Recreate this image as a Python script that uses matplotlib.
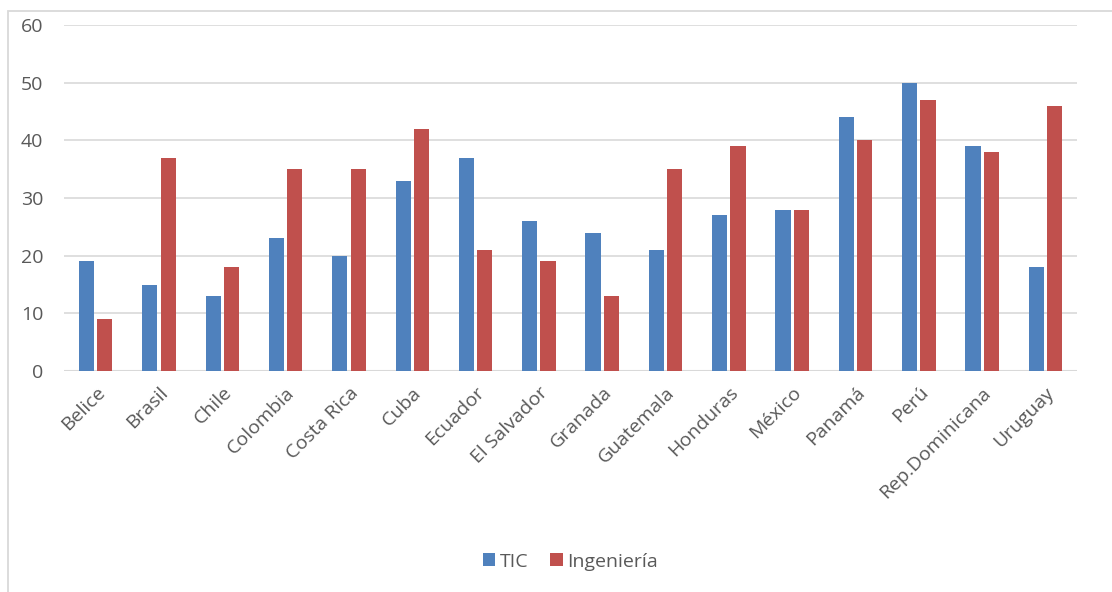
import numpy as np
import matplotlib.pyplot as plt
from matplotlib.patches import Rectangle

plt.rcParams['font.family'] = ['Open Sans', 'DejaVu Sans']

paises = ['Belice', 'Brasil', 'Chile', 'Colombia', 'Costa Rica', 'Cuba', 'Ecuador',
          'El Salvador', 'Granada', 'Guatemala', 'Honduras', 'México', 'Panamá',
          'Perú', 'Rep.Dominicana', 'Uruguay']
tic = [19, 15, 13, 23, 20, 33, 37, 26, 24, 21, 27, 28, 44, 50, 39, 18]
ingenieria = [9, 37, 18, 35, 35, 42, 21, 19, 13, 35, 39, 28, 40, 47, 38, 46]

azul = '#4F81BD'
rojo = '#C0504D'
gris = '#595959'

fig = plt.figure(figsize=(11.12, 5.92), dpi=100)
ax = fig.add_axes([0.0576, 0.3733, 0.911, 0.5845])

x = np.arange(len(paises))
w = 0.24
ax.bar(x - w / 2 - 0.025, tic, w, color=azul, label='TIC', zorder=3)
ax.bar(x + w / 2 + 0.025, ingenieria, w, color=rojo, label='Ingeniería', zorder=3)

ax.set_xlim(-0.5, len(paises) - 0.5)
ax.set_ylim(0, 60)
ax.set_yticks(range(0, 61, 10))
ax.grid(axis='y', color='#d9d9d9', linewidth=1.2, zorder=0)
for s in ax.spines.values():
    s.set_visible(False)
ax.axhline(0, color='#d9d9d9', linewidth=1.5, zorder=2)

ax.set_xticks(x)
ax.set_xticklabels(paises, rotation=45, ha='right', rotation_mode='anchor')
ax.tick_params(axis='both', length=0, labelsize=14, colors=gris)
ax.tick_params(axis='y', pad=15)
ax.tick_params(axis='x', pad=9)

fig.legend(loc='center', bbox_to_anchor=(0.513, 0.051), ncol=2, frameon=False,
           fontsize=14, labelcolor=gris, handlelength=0.65, handleheight=0.65,
           handletextpad=0.25, columnspacing=1.1)

# chart border
fig.patches.append(Rectangle((8 / 1112, -0.1), 1.2, 0.1 + (1 - 11 / 592),
                             transform=fig.transFigure, fill=False,
                             edgecolor='#d9d9d9', linewidth=1.3))

fig.savefig('out.png', dpi=100, facecolor='white')
